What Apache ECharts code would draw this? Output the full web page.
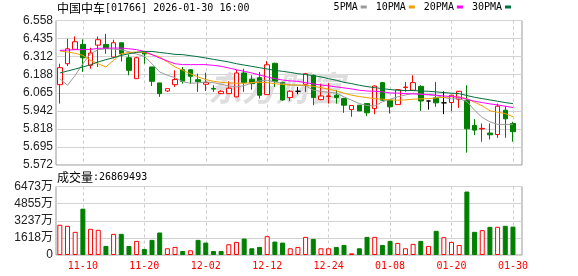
<!DOCTYPE html>
<html><head><meta charset="utf-8">
<script src="https://cdn.jsdelivr.net/npm/echarts@6/dist/echarts.min.js"></script>
<style>html,body{margin:0;padding:0;background:#fff}#c{width:578px;height:276px}</style>
</head><body><div id="c"></div>
<script>
const stockName = '中国中车';
const stockCode = '[01766]';
const stampText = '2026-01-30 16:00';
const volTitle = '成交量';
const lastVolume = '26869493';
const watermark = '东方财富';

const dates = ['11-05','11-06','11-07','11-10','11-11','11-12','11-13','11-14','11-17','11-18',
  '11-19','11-20','11-21','11-24','11-25','11-26','11-27','11-28','12-01','12-02',
  '12-03','12-04','12-05','12-08','12-09','12-10','12-11','12-12','12-15','12-16',
  '12-17','12-18','12-19','12-22','12-23','12-24','12-29','12-30','12-31','01-02',
  '01-05','01-06','01-07','01-08','01-09','01-12','01-13','01-14','01-15','01-16',
  '01-19','01-20','01-21','01-22','01-23','01-26','01-27','01-28','01-29','01-30'];
const xTickLabels = ['11-10','11-20','12-02','12-12','12-24','01-08','01-20','01-30'];

const openP = [6.120,6.263,6.361,6.395,6.252,6.390,6.395,6.309,6.406,6.304,
  6.161,6.340,6.241,6.132,6.077,6.120,6.222,6.222,6.154,6.123,
  6.095,6.059,6.059,6.037,6.200,6.157,6.168,6.052,6.266,6.136,
  6.032,6.075,6.123,6.184,6.018,6.040,6.048,6.025,5.950,5.980,
  5.991,5.957,6.134,6.014,5.984,6.100,6.082,6.109,6.009,6.030,
  5.996,5.998,6.021,6.014,5.842,5.818,5.790,5.780,5.946,5.855];
const closeP = [6.236,6.365,6.413,6.304,6.336,6.427,6.368,6.406,6.331,6.218,
  6.304,6.330,6.143,6.059,6.093,6.155,6.143,6.177,6.141,6.136,
  6.090,6.075,6.096,6.200,6.134,6.127,6.048,6.256,6.143,6.016,
  6.075,6.075,6.195,6.032,6.043,6.043,6.032,5.980,5.978,5.941,
  5.928,6.111,6.014,5.969,6.086,6.104,6.134,6.009,6.009,5.996,
  5.996,6.048,6.075,5.819,5.810,5.822,5.778,5.973,5.887,5.799];
const lowP = [5.991,6.247,6.361,6.207,6.229,6.241,6.331,6.300,6.279,6.184,
  6.161,6.263,6.111,6.037,6.071,6.105,6.127,6.127,6.071,6.077,
  6.071,6.059,6.059,6.035,6.071,6.086,6.025,6.052,6.105,6.010,
  6.009,6.055,6.071,5.980,6.014,5.991,5.991,5.928,5.901,5.941,
  5.905,5.919,6.010,5.923,5.984,6.071,6.082,5.941,5.950,5.969,
  5.919,5.939,5.962,5.656,5.776,5.731,5.746,5.758,5.758,5.731];
const highP = [6.263,6.433,6.449,6.429,6.372,6.449,6.467,6.427,6.406,6.325,
  6.310,6.345,6.241,6.132,6.093,6.218,6.241,6.222,6.195,6.202,
  6.116,6.082,6.143,6.222,6.229,6.184,6.207,6.281,6.270,6.140,
  6.082,6.105,6.200,6.190,6.127,6.130,6.082,6.030,5.980,5.980,
  5.991,6.115,6.139,6.018,6.090,6.139,6.184,6.116,6.009,6.139,
  6.075,6.050,6.077,6.116,5.885,5.855,5.855,5.991,5.975,5.867];

const ma5 = [6.161,6.116,6.184,6.263,6.331,6.359,6.365,6.363,6.359,6.345,
  6.329,6.313,6.263,6.207,6.184,6.168,6.141,6.130,6.132,6.139,
  6.134,6.123,6.111,6.105,6.114,6.132,6.146,6.150,6.139,6.130,
  6.118,6.116,6.114,6.082,6.075,6.068,6.062,6.037,6.014,5.991,
  5.978,5.975,6.003,6.021,6.037,6.050,6.062,6.055,6.050,6.046,
  6.032,6.023,6.025,6.005,5.946,5.896,5.867,5.849,5.849,5.849];
const ma10 = [6.350,6.343,6.334,6.320,6.286,6.263,6.241,6.286,6.331,6.340,
  6.343,6.340,6.325,6.309,6.275,6.241,6.218,6.195,6.173,6.155,
  6.143,6.136,6.132,6.130,6.130,6.134,6.136,6.134,6.127,6.121,
  6.118,6.118,6.116,6.109,6.100,6.089,6.078,6.062,6.048,6.039,
  6.032,6.025,6.021,6.016,6.014,6.016,6.021,6.023,6.025,6.030,
  6.034,6.037,6.037,6.025,6.000,5.976,5.942,5.932,5.923,5.901];
const ma20 = [6.354,6.356,6.359,6.359,6.361,6.368,6.370,6.370,6.370,6.365,
  6.359,6.347,6.325,6.302,6.282,6.263,6.257,6.257,6.257,6.257,
  6.252,6.245,6.234,6.222,6.211,6.200,6.186,6.173,6.161,6.152,
  6.146,6.143,6.134,6.125,6.118,6.112,6.105,6.098,6.091,6.082,
  6.077,6.075,6.071,6.064,6.062,6.059,6.057,6.055,6.053,6.048,
  6.043,6.039,6.034,6.021,6.007,5.998,5.989,5.982,5.973,5.964];
const ma30 = [6.200,6.213,6.227,6.241,6.256,6.275,6.291,6.304,6.320,6.331,
  6.340,6.347,6.347,6.340,6.334,6.327,6.325,6.318,6.311,6.302,
  6.293,6.284,6.275,6.263,6.254,6.245,6.236,6.227,6.218,6.211,
  6.204,6.195,6.189,6.182,6.173,6.161,6.150,6.136,6.127,6.116,
  6.107,6.100,6.093,6.087,6.082,6.080,6.080,6.077,6.075,6.071,
  6.066,6.062,6.059,6.046,6.034,6.025,6.016,6.007,5.998,5.991];

// volume in 万 (10k shares)
const volume = [2856,2761,2189,4379,2475,2380,857,1999,1999,857,
  1333,571,1428,2126,635,762,381,444,1428,1174,
  381,381,1015,1237,1555,635,762,1777,1269,1174,
  635,762,1713,1523,635,635,762,952,159,635,
  1713,1713,952,1333,1142,635,1047,1333,857,2285,
  1682,1237,952,5997,2189,2348,2665,2665,2761,2687];
// 1 = up day (red hollow bar), 0 = down day (green bar)
const volUp = [1,1,1,0,1,1,0,1,0,0, 1,0,0,0,1,1,0,1,0,0,
  0,0,1,1,0,0,0,1,0,0, 1,1,1,0,1,1,0,0,1,0,
  0,1,0,0,1,1,1,0,1,0, 1,1,1,0,0,1,0,1,0,0];

const priceTicks = ['5.572','5.695','5.818','5.942','6.065','6.188','6.312','6.435','6.558'];
const volTicks = ['0','1618万','3237万','4855万','6473万'];
const volMax = 6473;
const maNames = ['5PMA','10PMA','20PMA','30PMA'];

const RED = '#ff0000', GREEN = '#008000';
const maColors = ['#999999','#f0a000','#ff00ff','#00703c'];
const MONO = '"DejaVu Sans Mono", monospace';
const CJK = '"Noto Sans CJK SC", sans-serif';
const SANS = '"Liberation Sans", "Noto Sans CJK SC", sans-serif';

const pMin = +priceTicks[0], pMax = +priceTicks[priceTicks.length - 1];
const pInt = (pMax - pMin) / (priceTicks.length - 1);
const vInt = volMax / (volTicks.length - 1);

const candleData = dates.map((d, i) => {
  const item = { value: [openP[i], closeP[i], lowP[i], highP[i]] };
  if (openP[i] === closeP[i]) {
    item.itemStyle = { color: '#000', color0: '#000', borderColor: '#000', borderColor0: '#000', borderColorDoji: '#000' };
  }
  return item;
});
const volData = volume.map((v, i) => ({
  value: v,
  itemStyle: volUp[i]
    ? { color: '#ffffff', borderColor: RED, borderWidth: 1 }
    : { color: GREEN, borderColor: GREEN, borderWidth: 1 }
}));

const tickFn = (idx, val) => xTickLabels.indexOf(val) >= 0;
const dashed = { show: true, interval: tickFn, alignWithLabel: true, lineStyle: { color: '#cccccc', type: [3, 3], width: 1 } };
const solidSplit = { show: true, lineStyle: { color: '#d3d3d3', width: 1 } };

const chart = echarts.init(document.getElementById('c'), null, { renderer: 'canvas' });
chart.setOption({
  animation: false,
  backgroundColor: '#ffffff',
  title: [
    { left: 57, top: 1.5, padding: 0,
      text: '{a|' + stockName + '}{b|' + stockCode + ' ' + stampText + '}',
      textStyle: { fontWeight: 'normal', rich: {
        a: { fontFamily: CJK, fontSize: 12, fontWeight: 'normal', color: '#000', lineHeight: 14 },
        b: { fontFamily: MONO, fontSize: 10, fontWeight: 'normal', color: '#000', lineHeight: 14 } } } },
    { left: 57, top: 170.5, padding: 0,
      text: '{a|' + volTitle + '}{b|:' + lastVolume + '}',
      textStyle: { fontWeight: 'normal', rich: {
        a: { fontFamily: CJK, fontSize: 12, fontWeight: 'normal', color: '#000', lineHeight: 14 },
        b: { fontFamily: MONO, fontSize: 10, fontWeight: 'normal', color: '#000', lineHeight: 14 } } } }
  ],
  legend: {
    data: maNames, right: 67, top: 2, padding: 0, align: 'right', icon: 'rect',
    itemWidth: 6, itemHeight: 3, itemGap: 9, selectedMode: false,
    textStyle: { fontFamily: MONO, fontSize: 10, fontWeight: 'normal', color: '#000', padding: [0, -2, 0, 0] }
  },
  graphic: [{
    type: 'text', left: 208, top: 71, z: 1, silent: true,
    style: { text: watermark, font: 'italic bold 34px "Noto Sans CJK SC"', fill: '#dedede' }
  }],
  grid: [
    { left: 56, top: 20.5, width: 466, height: 144.5, show: true, borderColor: '#999', borderWidth: 1, backgroundColor: 'transparent' },
    { left: 56, top: 20.5, width: 460.8, height: 144.5 },
    { left: 56, top: 186.5, width: 466, height: 68.5, show: true, borderColor: '#999', borderWidth: 1, backgroundColor: 'transparent' },
    { left: 56, top: 186.5, width: 460.8, height: 68.5 }
  ],
  xAxis: [
    { type: 'value', gridIndex: 0, min: 0, max: 1, show: false },
    { type: 'category', gridIndex: 1, data: dates, boundaryGap: true,
      axisLine: { show: false }, axisTick: { show: false }, axisLabel: { show: false }, splitLine: dashed },
    { type: 'value', gridIndex: 2, min: 0, max: 1, show: false },
    { type: 'category', gridIndex: 3, data: dates, boundaryGap: true,
      axisLine: { show: false }, axisTick: { show: false },
      axisLabel: { show: true, interval: tickFn, color: RED, fontFamily: MONO, fontSize: 10, margin: 6 },
      splitLine: dashed }
  ],
  yAxis: [
    { type: 'value', gridIndex: 0, min: pMin, max: pMax, interval: pInt,
      axisLine: { show: false }, axisTick: { show: false }, splitLine: solidSplit,
      axisLabel: { showMinLabel: true, showMaxLabel: true, margin: 3, color: '#222', fontFamily: SANS, fontSize: 12,
        formatter: (v, i) => priceTicks[i] } },
    { type: 'value', gridIndex: 1, min: pMin, max: pMax, show: false },
    { type: 'value', gridIndex: 2, min: 0, max: volMax, interval: vInt,
      axisLine: { show: false }, axisTick: { show: false }, splitLine: solidSplit,
      axisLabel: { showMinLabel: true, showMaxLabel: true, margin: 3, color: '#222', fontFamily: SANS, fontSize: 12,
        formatter: (v, i) => volTicks[i] } },
    { type: 'value', gridIndex: 3, min: 0, max: volMax, show: false }
  ],
  series: [
    { type: 'candlestick', name: 'K', xAxisIndex: 1, yAxisIndex: 1, barWidth: 5, data: candleData,
      itemStyle: { color: '#ffffff', color0: GREEN, borderColor: RED, borderColor0: GREEN, borderColorDoji: '#000', borderWidth: 1 } },
    ...[ma5, ma10, ma20, ma30].map((arr, k) => ({
      type: 'line', name: maNames[k], xAxisIndex: 1, yAxisIndex: 1, data: arr,
      symbol: 'none', showSymbol: false, z: 3,
      lineStyle: { color: maColors[k], width: 1 }, itemStyle: { color: maColors[k] }
    })),
    { type: 'bar', name: 'VOL', xAxisIndex: 3, yAxisIndex: 3, barWidth: 5, data: volData }
  ]
});
</script>
</body></html>
